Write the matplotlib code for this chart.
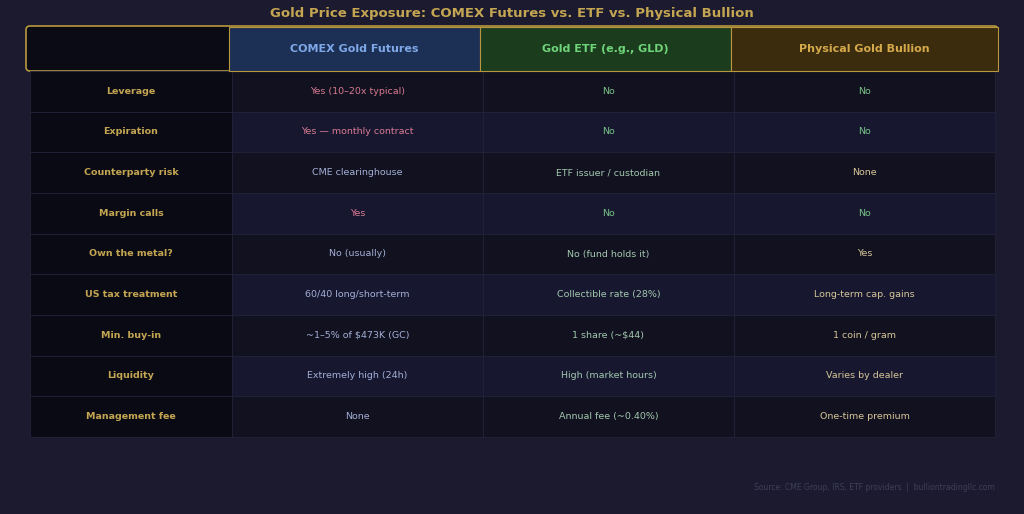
import matplotlib.pyplot as plt
from matplotlib.patches import Rectangle, FancyBboxPatch

title = "Gold Price Exposure: COMEX Futures vs. ETF vs. Physical Bullion"
headers = ["COMEX Gold Futures", "Gold ETF (e.g., GLD)", "Physical Gold Bullion"]
rows = ["Leverage", "Expiration", "Counterparty risk", "Margin calls", "Own the metal?",
        "US tax treatment", "Min. buy-in", "Liquidity", "Management fee"]
futures = ["Yes (10\u201320x typical)", "Yes \u2014 monthly contract", "CME clearinghouse", "Yes",
           "No (usually)", "60/40 long/short-term", "~1\u20135% of $473K (GC)",
           "Extremely high (24h)", "None"]
etf = ["No", "No", "ETF issuer / custodian", "No", "No (fund holds it)",
       "Collectible rate (28%)", "1 share (~$44)", "High (market hours)", "Annual fee (~0.40%)"]
physical = ["No", "No", "None", "No", "Yes", "Long-term cap. gains", "1 coin / gram",
            "Varies by dealer", "One-time premium"]
source = "Source: CME Group, IRS, ETF providers  |  bulliontradingllc.com"

bg = "#1b1a2e"
gold = "#c4a552"
fig = plt.figure(figsize=(10.24, 5.14), dpi=100, facecolor=bg)
ax = fig.add_axes([0, 0, 1, 1])
ax.set_xlim(0, 1024)
ax.set_ylim(514, 0)
ax.axis("off")

xs = [30, 232, 483, 734, 995]
top, hbot, bottom = 26, 71, 437
rh = (bottom - hbot) / len(rows)

# header
ax.add_patch(FancyBboxPatch((26, top), 972, hbot - top, boxstyle="round,pad=0,rounding_size=4",
                            fc="#0b0b16", ec="#b8983e", lw=1.2, zorder=1))
hfill = ["#1c2f55", "#1b3d1e", "#3b2c0e"]
hcol = ["#7fa8e8", "#6fd47a", "#d4a94a"]
hx = [229, 480, 731, 998]
for i, h in enumerate(headers):
    ax.add_patch(Rectangle((hx[i], top + 1), hx[i + 1] - hx[i], hbot - top - 1,
                           fc=hfill[i], ec="#b8983e", lw=0.8, zorder=2))
    ax.text((hx[i] + hx[i + 1]) / 2, (top + hbot) / 2, h, ha="center", va="center",
            color=hcol[i], fontsize=8, fontweight="bold", zorder=3)

cols = [futures, etf, physical]
for r, name in enumerate(rows):
    y0 = hbot + r * rh
    shade = "#11111f" if r % 2 == 0 else "#171830"
    ax.add_patch(Rectangle((xs[0], y0), xs[1] - xs[0], rh, fc="#0a0a14", ec="#22233a", lw=0.6))
    ax.text((xs[0] + xs[1]) / 2, y0 + rh / 2, name, ha="center", va="center",
            color=gold, fontsize=6.8, fontweight="bold")
    for c in range(3):
        ax.add_patch(Rectangle((xs[c + 1], y0), xs[c + 2] - xs[c + 1], rh,
                               fc=shade, ec="#22233a", lw=0.6))
        v = cols[c][r]
        if c == 0:
            color = "#d97a90" if v.startswith("Yes") else "#a3afd6"
        elif c == 1:
            color = "#78c486" if v == "No" else "#a2c8ae"
        else:
            color = "#78c486" if v == "No" else "#d6c698"
        ax.text((xs[c + 1] + xs[c + 2]) / 2, y0 + rh / 2, v, ha="center", va="center",
                color=color, fontsize=6.8)

ax.text(512, 13, title, ha="center", va="center", color=gold, fontsize=9.5, fontweight="bold")
ax.text(995, 488, source, ha="right", va="center", color="#3e3f58", fontsize=5.5)

fig.savefig("out.png", dpi=100, facecolor=bg)
